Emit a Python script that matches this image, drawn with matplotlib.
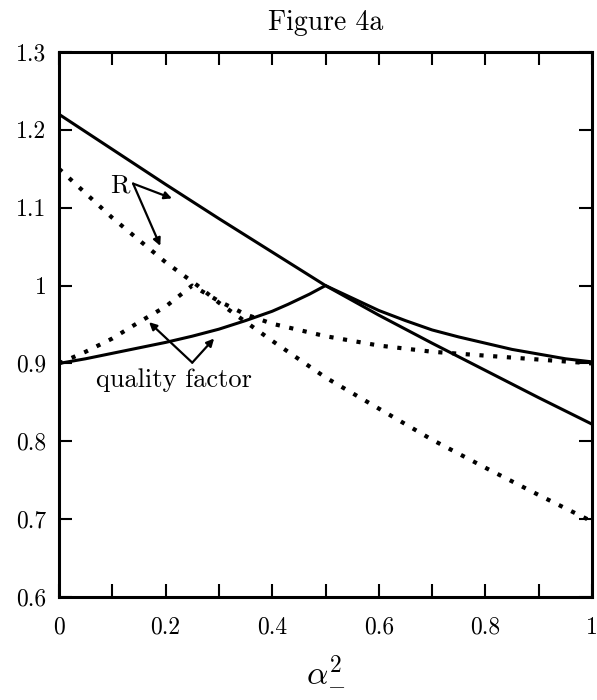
import numpy as np
import matplotlib
matplotlib.use('Agg')
import matplotlib.pyplot as plt
from matplotlib.ticker import FuncFormatter

plt.rcParams['font.family'] = 'cmr10'
plt.rcParams['mathtext.fontset'] = 'cm'
plt.rcParams['axes.formatter.use_mathtext'] = True

# values
x_r_solid = [0.0, 0.1, 0.2, 0.3, 0.4, 0.5, 0.6, 0.7, 0.8, 0.9, 1.0]
r_solid = [1.22, 1.175, 1.13, 1.086, 1.043, 1.0, 0.962, 0.926, 0.891, 0.856, 0.822]

x_q_solid = [0.0, 0.05, 0.1, 0.15, 0.2, 0.25, 0.3, 0.35, 0.4, 0.43, 0.47, 0.5,
             0.55, 0.6, 0.65, 0.7, 0.75, 0.8, 0.85, 0.9, 0.95, 1.0]
q_solid = [0.9, 0.906, 0.913, 0.92, 0.927, 0.935, 0.944, 0.955, 0.967, 0.976, 0.989, 1.0,
           0.984, 0.968, 0.955, 0.943, 0.934, 0.926, 0.918, 0.912, 0.906, 0.902]

x_r_dot = [0.0, 0.1, 0.2, 0.26, 0.3, 0.4, 0.5, 0.6, 0.7, 0.8, 0.9, 1.0]
r_dot = [1.15, 1.087, 1.03, 1.0, 0.978, 0.929, 0.882, 0.842, 0.802, 0.766, 0.731, 0.697]

x_q_dot = [0.0, 0.05, 0.1, 0.15, 0.2, 0.25, 0.3, 0.35, 0.4, 0.5, 0.6, 0.7, 0.8, 0.9, 1.0]
q_dot = [0.9, 0.915, 0.932, 0.953, 0.973, 1.0, 0.98, 0.963, 0.951, 0.935, 0.923, 0.915, 0.91, 0.905, 0.9]

x_ticks = np.arange(0, 1.01, 0.1)
x_tick_labels = ['0', '', '0.2', '', '0.4', '', '0.6', '', '0.8', '', '1']
y_ticks = np.arange(0.6, 1.31, 0.1)

fig = plt.figure(figsize=(5.97, 7.0), dpi=100)
ax = fig.add_axes([59/597, 1 - 597/700, 533/597, 545/700])

ax.plot(x_r_solid, r_solid, color='black', lw=2.2, solid_joinstyle='round')
ax.plot(x_q_solid, q_solid, color='black', lw=2.2, solid_joinstyle='round')
dot = (0, (1, 2.3))
ax.plot(x_r_dot, r_dot, color='black', lw=3.0, linestyle=dot, dash_capstyle='butt')
ax.plot(x_q_dot, q_dot, color='black', lw=3.0, linestyle=dot, dash_capstyle='butt')

ax.set_xlim(0, 1)
ax.set_ylim(0.6, 1.3)
ax.set_xticks(x_ticks)
ax.set_xticklabels(x_tick_labels)
ax.set_yticks(y_ticks)
ax.yaxis.set_major_formatter(FuncFormatter(lambda v, p: '%g' % round(v, 2)))
ax.tick_params(direction='in', length=9.5, width=1.5, top=True, right=True,
               labelsize=17)
ax.tick_params(axis='x', pad=14)
ax.tick_params(axis='y', pad=9)
for s in ax.spines.values():
    s.set_linewidth(2.2)

ap = dict(arrowstyle='-|>', mutation_scale=11, lw=1.6, color='black',
          shrinkA=0, shrinkB=0)
ax.text(0.115, 1.128, 'R', fontsize=19, ha='center', va='center')
ax.annotate('', xy=(0.212, 1.112), xytext=(0.139, 1.131), arrowprops=ap)
ax.annotate('', xy=(0.19, 1.051), xytext=(0.139, 1.131), arrowprops=ap)
ax.text(0.216, 0.879, 'quality factor', fontsize=19, ha='center', va='center')
ax.annotate('', xy=(0.169, 0.953), xytext=(0.25, 0.901), arrowprops=ap)
ax.annotate('', xy=(0.291, 0.932), xytext=(0.25, 0.901), arrowprops=ap)

ax.set_title('Figure 4a', fontsize=20, pad=16)
ax.set_xlabel(r'$\alpha_{\mathrm{-}}^{2}$', fontsize=24, labelpad=11)

fig.savefig('out.png', dpi=100)
